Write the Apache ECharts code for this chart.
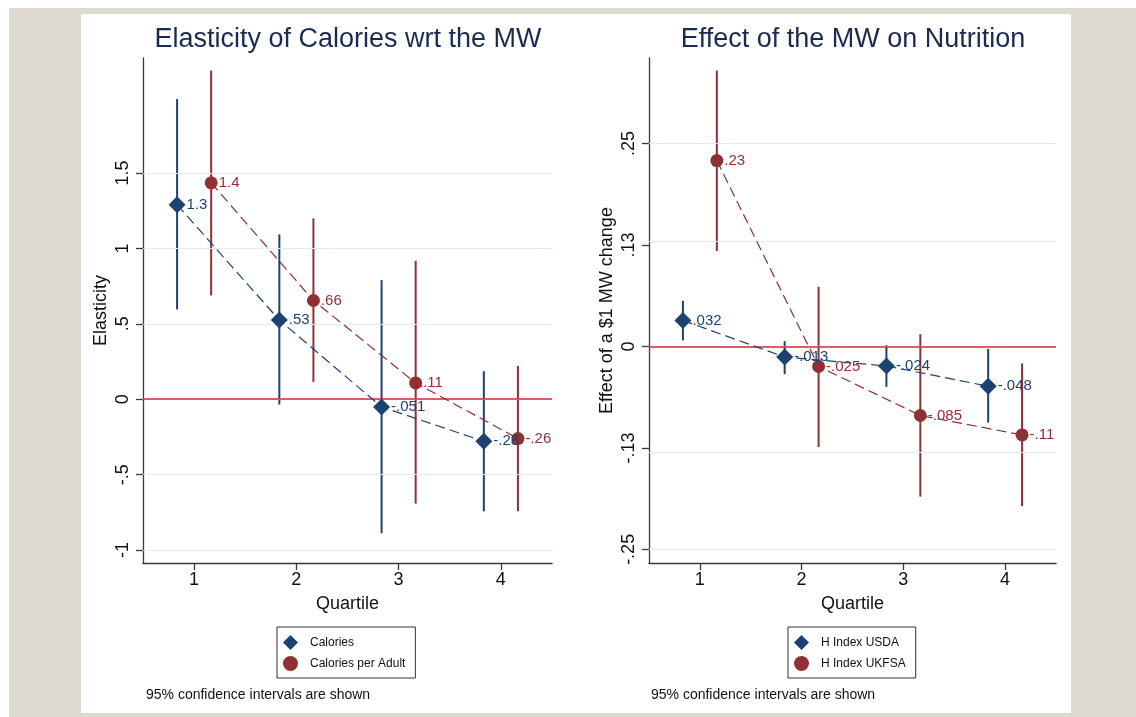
<!DOCTYPE html>
<html><head><meta charset="utf-8">
<script src="https://cdn.jsdelivr.net/npm/echarts@6/dist/echarts.min.js"></script>
<style>
html,body{margin:0;padding:0;background:#fff;}
#bg{position:absolute;left:9px;top:8px;width:1127px;height:709px;background:#dedad0;}
#panel{position:absolute;left:81px;top:14px;width:990px;height:699px;background:#fff;}
#chart{position:absolute;left:0;top:0;width:1136px;height:717px;}
</style></head><body>
<div id="bg"></div><div id="panel"></div><div id="chart"></div>
<script>
// ---------- data ----------
const quartiles = [1, 2, 3, 4];

// Left panel: elasticity of calories
const calories      = [1.29, 0.525, -0.051, -0.279];
const caloriesLo    = [0.595, -0.035, -0.889, -0.743];
const caloriesHi    = [1.99, 1.093, 0.79, 0.186];
const caloriesLbl   = ['1.3', '.53', '-.051', '-.28'];
const calAdult      = [1.435, 0.655, 0.108, -0.261];
const calAdultLo    = [0.688, 0.115, -0.692, -0.743];
const calAdultHi    = [2.18, 1.199, 0.918, 0.221];
const calAdultLbl   = ['1.4', '.66', '.11', '-.26'];
const leftTicks     = [-1, -0.5, 0, 0.5, 1, 1.5];
const leftTickLbl   = ['-1', '-.5', '0', '.5', '1', '1.5'];

// Right panel: effect on nutrition
const usda          = [0.032, -0.013, -0.024, -0.049];
const usdaLo        = [0.0074, -0.0342, -0.0498, -0.0938];
const usdaHi        = [0.0563, 0.0065, 0.0016, -0.003];
const usdaLbl       = ['.032', '-.013', '-.024', '-.048'];
const ukfsa         = [0.229, -0.0247, -0.0851, -0.109];
const ukfsaLo       = [0.1176, -0.1239, -0.185, -0.1967];
const ukfsaHi       = [0.340, 0.0735, 0.0152, -0.021];
const ukfsaLbl      = ['.23', '-.025', '-.085', '-.11'];
const rightTicks    = [-0.25, -0.125, 0, 0.125, 0.25];
const rightTickLbl  = ['-.25', '-.13', '0', '.13', '.25'];

// ---------- style ----------
const BLUE = '#1c4370';
const RED = '#8f3034';
const ZERO = '#c8313a';
const GRIDC = '#e3edf0';
const AXC = '#3a3a3a';
const FONT = "'Liberation Sans', Arial, Helvetica, sans-serif";
const DODGE = 1 / 6;

const chart = echarts.init(document.getElementById('chart'), null, {renderer: 'canvas'});

function pts(vals, sign) { return quartiles.map((q, i) => [q + sign * DODGE, vals[i]]); }
function bars(lo, hi, sign) { return quartiles.map((q, i) => [q + sign * DODGE, lo[i], hi[i]]); }

function errSeries(name, data, color, idx) {
  return {
    name: name + ' CI', type: 'custom', xAxisIndex: idx, yAxisIndex: idx, z: 3,
    data: data, encode: {x: 0, y: [1, 2]}, silent: true,
    renderItem: function (params, api) {
      const x = api.value(0);
      const p1 = api.coord([x, api.value(1)]);
      const p2 = api.coord([x, api.value(2)]);
      return {type: 'line', shape: {x1: p1[0], y1: p1[1], x2: p2[0], y2: p2[1]},
              style: {stroke: color, lineWidth: 2}};
    }
  };
}
function ptSeries(name, data, labels, color, symbol, size, idx) {
  return {
    name: name, type: 'line', xAxisIndex: idx, yAxisIndex: idx, z: 5,
    data: data, symbol: symbol, symbolSize: size, color: color,
    itemStyle: {color: color, opacity: 1},
    lineStyle: {color: color, width: 1.2, type: [10, 5]},
    label: {show: true, position: 'right', distance: 1, color: color, fontSize: 15,
            fontFamily: FONT, formatter: p => labels[p.dataIndex]},
    emphasis: {disabled: true}, animation: false
  };
}
function refSeries(idx, ticks) {
  return {
    type: 'line', xAxisIndex: idx, yAxisIndex: idx, data: [], silent: true, z: 1,
    markLine: {
      silent: true, symbol: 'none', animation: false, label: {show: false},
      data: ticks.map(v => ({yAxis: v, lineStyle: {color: GRIDC, width: 1.2, type: 'solid'}}))
        .concat([{yAxis: 0, lineStyle: {color: ZERO, width: 1.6, type: 'solid'}}])
    }
  };
}
function xAx(idx) {
  return {
    type: 'value', gridIndex: idx, min: 0.5, max: 4.5,
    name: 'Quartile', nameLocation: 'middle', nameGap: 32,
    nameTextStyle: {fontSize: 18, color: '#111', fontFamily: FONT},
    axisLine: {show: true, onZero: false, lineStyle: {color: AXC, width: 1.3}},
    axisTick: {show: true, length: 7, customValues: quartiles, lineStyle: {color: AXC, width: 1.3}},
    axisLabel: {customValues: quartiles, fontSize: 18, color: '#111', margin: 8, fontFamily: FONT},
    splitLine: {show: false}
  };
}
function yAx(idx, min, max, ticks, tickLbl, name, gap) {
  return {
    type: 'value', gridIndex: idx, min: min, max: max,
    name: name, nameLocation: 'middle', nameGap: gap, nameRotate: 90,
    nameTextStyle: {fontSize: 18, color: '#111', fontFamily: FONT},
    axisLine: {show: true, onZero: false, lineStyle: {color: AXC, width: 1.3}},
    axisTick: {show: true, length: 7, customValues: ticks, lineStyle: {color: AXC, width: 1.3}},
    axisLabel: {customValues: ticks, rotate: 90, fontSize: 18, color: '#111', margin: 11,
                fontFamily: FONT, formatter: v => tickLbl[ticks.indexOf(v)] ?? ''},
    splitLine: {show: false}
  };
}
function legendBox(left, names) {
  return {
    left: left, top: 627, orient: 'vertical', itemWidth: 15, itemHeight: 15, itemGap: 6,
    padding: [8, 10, 7, 6], borderColor: '#333', borderWidth: 1, backgroundColor: '#fff',
    textStyle: {fontSize: 12, color: '#111', fontFamily: FONT, padding: [0, 0, 0, 7]},
    selectedMode: false,
    data: [{name: names[0], icon: 'diamond'},
           {name: names[1], icon: 'circle', itemStyle: {}}]
  };
}

const option = {
  animation: false,
  backgroundColor: 'transparent',
  textStyle: {fontFamily: FONT},
  grid: [
    {left: 143, top: 58, width: 409, height: 505},
    {left: 649, top: 58, width: 407, height: 505}
  ],
  xAxis: [xAx(0), xAx(1)],
  yAxis: [
    yAx(0, -1.086, 2.263, leftTicks, leftTickLbl, 'Elasticity', 33),
    yAx(1, -0.2668, 0.3554, rightTicks, rightTickLbl, 'Effect of a $1 MW change', 33)
  ],
  legend: [
    legendBox(277, ['Calories', 'Calories per Adult']),
    legendBox(788, ['H Index USDA', 'H Index UKFSA'])
  ],
  graphic: [
    {type: 'text', x: 348, y: 40, style: {text: 'Elasticity of Calories wrt the MW', fill: '#1b2a50',
      font: '27px ' + FONT, textAlign: 'center', textVerticalAlign: 'middle'}},
    {type: 'text', x: 853, y: 40, style: {text: 'Effect of the MW on Nutrition', fill: '#1b2a50',
      font: '27px ' + FONT, textAlign: 'center', textVerticalAlign: 'middle'}},
    {type: 'text', x: 146, y: 695, style: {text: '95% confidence intervals are shown', fill: '#111',
      font: '14px ' + FONT, textAlign: 'left', textVerticalAlign: 'middle'}},
    {type: 'text', x: 651, y: 695, style: {text: '95% confidence intervals are shown', fill: '#111',
      font: '14px ' + FONT, textAlign: 'left', textVerticalAlign: 'middle'}}
  ],
  series: [
    refSeries(0, leftTicks),
    refSeries(1, rightTicks),
    errSeries('Calories', bars(caloriesLo, caloriesHi, -1), BLUE, 0),
    errSeries('Calories per Adult', bars(calAdultLo, calAdultHi, 1), RED, 0),
    errSeries('H Index USDA', bars(usdaLo, usdaHi, -1), BLUE, 1),
    errSeries('H Index UKFSA', bars(ukfsaLo, ukfsaHi, 1), RED, 1),
    ptSeries('Calories', pts(calories, -1), caloriesLbl, BLUE, 'diamond', 17, 0),
    ptSeries('Calories per Adult', pts(calAdult, 1), calAdultLbl, RED, 'circle', 13, 0),
    ptSeries('H Index USDA', pts(usda, -1), usdaLbl, BLUE, 'diamond', 17, 1),
    ptSeries('H Index UKFSA', pts(ukfsa, 1), ukfsaLbl, RED, 'circle', 13, 1)
  ]
};
chart.setOption(option);
</script>
</body></html>
